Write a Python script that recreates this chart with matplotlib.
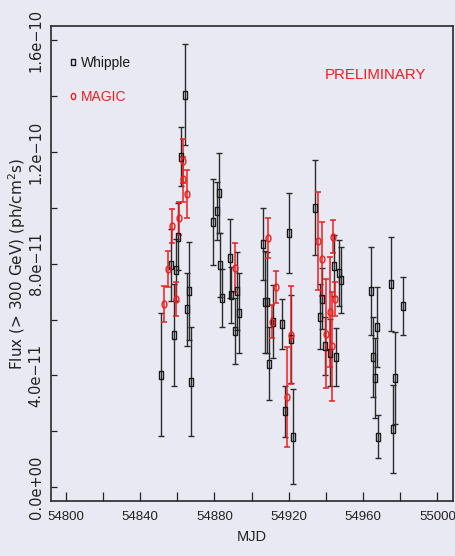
import numpy as np
import matplotlib
matplotlib.use('Agg')
import matplotlib.pyplot as plt
from matplotlib.lines import Line2D
from matplotlib.ticker import MultipleLocator, FuncFormatter

# Whipple light curve: MJD, flux (units of 1e-11 ph/cm^2/s), error
whipple_mjd = [54851.3, 54856.5, 54858.3, 54859.3, 54860.3, 54861.9, 54864.4, 54865.3,
               54866.4, 54867.3, 54879.3, 54881.3, 54882.3, 54883.2, 54884.3, 54888.3,
               54889.1, 54891.3, 54892.2, 54893.3, 54906.2, 54907.3, 54908.2, 54909.3,
               54911.4, 54916.3, 54918.1, 54920.3, 54921.2, 54922.3, 54934.2, 54937.1,
               54938.1, 54939.4, 54942.2, 54944.4, 54945.3, 54947.3, 54948.2, 54964.3,
               54965.2, 54966.3, 54967.4, 54968.2, 54975.2, 54976.3, 54977.2, 54981.4]
whipple_flux = [4.03, 7.94, 5.46, 7.78, 8.96, 11.83, 14.05, 6.37,
                7.02, 3.77, 9.49, 9.89, 10.53, 7.94, 6.76, 8.19,
                6.88, 5.59, 7.02, 6.25, 8.70, 6.62, 6.62, 4.42,
                5.93, 5.84, 2.72, 9.10, 5.30, 1.81, 10.00, 6.10,
                6.75, 5.05, 4.82, 7.93, 4.67, 7.66, 7.42, 7.02,
                4.67, 3.90, 5.72, 1.81, 7.27, 2.08, 3.90, 6.50]
whipple_err = [2.21, 1.29, 1.83, 1.10, 1.20, 1.05, 1.82, 1.31,
               1.75, 1.95, 1.55, 1.03, 1.43, 1.15, 1.04, 1.41,
               1.00, 1.18, 1.41, 1.43, 1.30, 1.82, 1.80, 1.30,
               1.30, 0.90, 0.91, 1.43, 1.57, 1.70, 1.70, 1.16,
               1.10, 1.04, 1.20, 1.10, 1.04, 1.17, 1.17, 1.57,
               1.43, 1.43, 1.43, 0.78, 1.68, 1.58, 1.65, 1.04]

# MAGIC light curve
magic_mjd = [54853.1, 54855.1, 54857.1, 54859.2, 54861.1, 54863.0, 54863.2, 54865.1,
             54891.1, 54909.0, 54911.2, 54913.0, 54918.9, 54921.1, 54936.0, 54938.0,
             54940.3, 54942.0, 54943.2, 54944.1, 54945.1]
magic_flux = [6.55, 7.80, 9.36, 6.73, 9.62, 11.67, 11.02, 10.49,
              7.85, 8.93, 5.93, 7.18, 3.23, 5.45, 8.82, 8.17,
              5.50, 6.28, 5.04, 8.97, 6.74]
magic_err = [0.65, 0.64, 0.61, 0.60, 0.58, 0.80, 0.80, 0.87,
             0.88, 0.72, 0.58, 0.57, 1.78, 1.74, 1.75, 1.31,
             1.94, 1.97, 1.94, 0.60, 0.62]

scale = 1e-11
bg = '#e9e9f3'
red = '#f01e1e'
narrow = ['Liberation Sans Narrow', 'Liberation Sans', 'DejaVu Sans']

# narrow marker shapes (the original picture is squeezed sideways)
sq = [(-0.62, -1), (0.62, -1), (0.62, 1), (-0.62, 1), (-0.62, -1)]
tt = np.linspace(0, 2 * np.pi, 30)
ell = list(zip(0.7 * np.cos(tt), np.sin(tt)))

fig = plt.figure(figsize=(4.56, 5.56), dpi=100, facecolor=bg)
ax = fig.add_axes([0.111, 0.099, 0.882, 0.854], facecolor=bg)

ax.errorbar(whipple_mjd, np.array(whipple_flux) * scale, yerr=np.array(whipple_err) * scale,
            fmt='none', ecolor='#2a2a2a', elinewidth=1.0, capsize=2.2, capthick=1.0, zorder=2)
ax.plot(whipple_mjd, np.array(whipple_flux) * scale, ls='none', marker=sq, ms=5.5,
        mfc='none', mec='#1a1a1a', mew=1.0, zorder=4)

ax.errorbar(magic_mjd, np.array(magic_flux) * scale, yerr=np.array(magic_err) * scale,
            fmt='none', ecolor=red, elinewidth=1.1, capsize=2.2, capthick=1.1, zorder=3)
ax.plot(magic_mjd, np.array(magic_flux) * scale, ls='none', marker=ell, ms=5,
        mfc='none', mec=red, mew=1.0, zorder=5)

ax.set_xlim(54791.9, 55008.3)
ax.set_ylim(-0.49e-11, 16.5e-11)

# ticks
ax.xaxis.set_major_locator(MultipleLocator(20))
ax.yaxis.set_major_locator(MultipleLocator(2e-11))
ax.xaxis.set_major_formatter(FuncFormatter(
    lambda v, p: '%d' % round(v) if round(v) % 40 == 0 else ''))


def yfmt(v, p):
    if round(v / 2e-11) % 2 != 0:
        return ''
    return ('%.1e' % v).replace('-', '\u2212')


ax.yaxis.set_major_formatter(FuncFormatter(yfmt))
ax.tick_params(axis='x', direction='in', length=6.5, width=0.9, pad=7.5,
               labelsize=9.5, colors='#222222')
ax.tick_params(axis='y', direction='in', length=4.3, width=0.9, pad=5,
               labelsize=10.5, labelrotation=90, colors='#222222')
for lab in ax.get_xticklabels():
    lab.set_family(narrow)
for lab in ax.get_yticklabels():
    lab.set_va('center')
ax.tick_params(top=False, right=False)

for s in ax.spines.values():
    s.set_linewidth(1.2)
    s.set_color('#2a2a2a')

ax.set_xlabel('MJD', fontsize=10.5, family=narrow, color='#222222', labelpad=5)
ax.set_ylabel('Flux (> 300 GeV) (ph/cm$^2$s)', fontsize=11, color='#222222')
ax.yaxis.set_label_coords(-0.057, 0.5)

# legend
handles = [Line2D([], [], ls='none', marker=sq, ms=5, mfc='none', mec='#1a1a1a', mew=1.0),
           Line2D([], [], ls='none', marker=ell, ms=4.5, mfc='none', mec=red, mew=1.0)]
leg = ax.legend(handles, ['Whipple', 'MAGIC'], loc='upper left', bbox_to_anchor=(0.048, 0.937),
                frameon=False, handlelength=0.5, handletextpad=0.3, labelspacing=1.45,
                borderpad=0, borderaxespad=0, prop={'family': narrow, 'size': 10})
leg.get_texts()[0].set_color('#1a1a1a')
leg.get_texts()[1].set_color(red)

ax.text(0.807, 0.897, 'PRELIMINARY', transform=ax.transAxes, ha='center', va='center',
        color=red, fontsize=10.8, family=narrow)

plt.savefig('out.png', dpi=100, facecolor=bg)
